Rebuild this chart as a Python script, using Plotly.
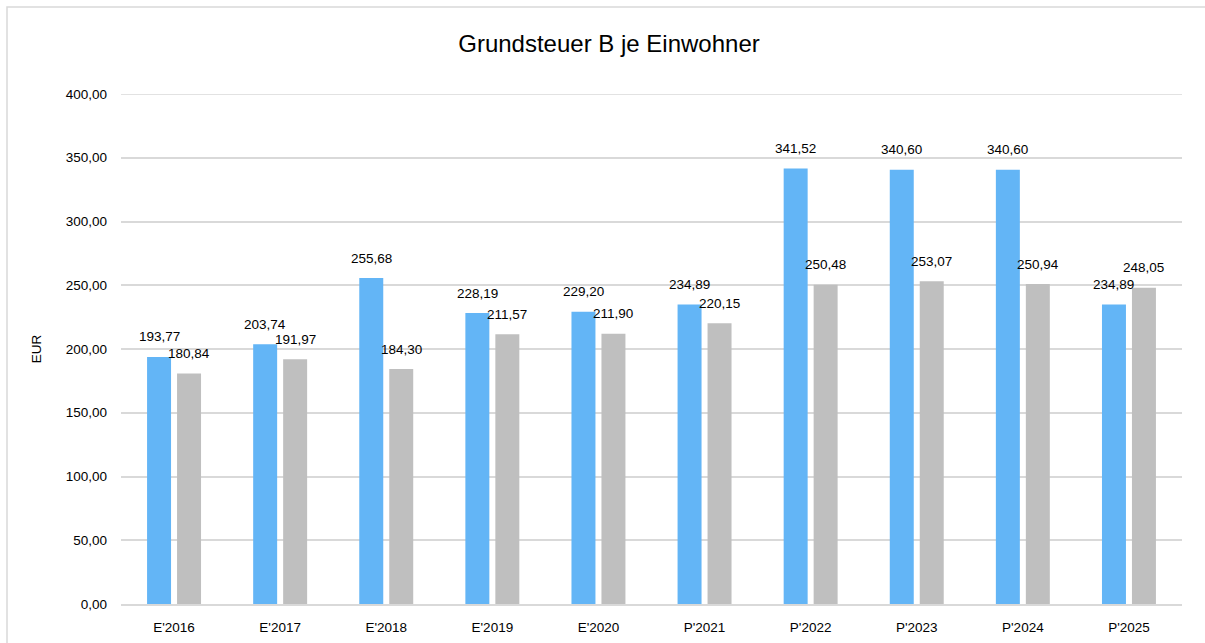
import plotly.graph_objects as go

categories = ["E'2016", "E'2017", "E'2018", "E'2019", "E'2020",
              "P'2021", "P'2022", "P'2023", "P'2024", "P'2025"]
series_a = [193.77, 203.74, 255.68, 228.19, 229.20, 234.89, 341.52, 340.60, 340.60, 234.89]
series_b = [180.84, 191.97, 184.30, 211.57, 211.90, 220.15, 250.48, 253.07, 250.94, 248.05]
y_ticks = [0, 50, 100, 150, 200, 250, 300, 350, 400]

W, H = 1205, 643
L, R, T, B = 121, 23, 94, 39
FONT = "Liberation Sans, Arial, sans-serif"
FS = 13.5

def de(v):
    return f"{v:.2f}".replace(".", ",")

fig = go.Figure()
fig.add_trace(go.Bar(x=categories, y=series_a, marker_color="#63B5F6",
                     marker_line_width=0, name="A"))
fig.add_trace(go.Bar(x=categories, y=series_b, marker_color="#BFBFBF",
                     marker_line_width=0, name="B"))

annotations = []
for c, a, b in zip(categories, series_a, series_b):
    annotations.append(dict(x=c, y=a, text=de(a), showarrow=False, xshift=-15,
                            yshift=20, yanchor="middle", xanchor="center",
                            font=dict(family=FONT, size=FS, color="#000000")))
    annotations.append(dict(x=c, y=b, text=de(b), showarrow=False, xshift=15,
                            yshift=20, yanchor="middle", xanchor="center",
                            font=dict(family=FONT, size=FS, color="#000000")))

pw = W - L - R
ph = H - T - B
def px_x(x):
    return (x - L) / pw
def px_y(y):
    return 1 - (y - T) / ph

shapes = [dict(type="rect", xref="paper", yref="paper",
               x0=px_x(7), x1=px_x(1215), y0=px_y(655), y1=px_y(7),
               line=dict(color="#D9D9D9", width=1.5), fillcolor="rgba(0,0,0,0)",
               layer="below"),
          dict(type="line", xref="paper", yref="y", x0=0, x1=1,
               y0=y_ticks[-1], y1=y_ticks[-1],
               line=dict(color="#D9D9D9", width=1.5), layer="below")]

fig.update_layout(
    width=W, height=H,
    margin=dict(l=L, r=R, t=T, b=B),
    paper_bgcolor="white", plot_bgcolor="white",
    separators=",.",
    barmode="group", bargap=0.435, bargroupgap=0.2,
    showlegend=False,
    title=dict(text="Grundsteuer B je Einwohner", x=609 / W, xanchor="center",
               y=1 - 44 / H, yanchor="middle",
               font=dict(family=FONT, size=24, color="#000000")),
    font=dict(family=FONT, size=FS, color="#000000"),
    annotations=annotations,
    shapes=shapes,
)
fig.update_xaxes(type="category", showgrid=False, showline=True,
                 linecolor="#D9D9D9", linewidth=2, ticks="",
                 ticklabelstandoff=10, automargin=False,
                 tickfont=dict(family=FONT, size=FS, color="#000000"))
fig.update_yaxes(range=[0, 400], tickvals=y_ticks, tickformat=".2f",
                 showgrid=True, gridcolor="#D9D9D9", gridwidth=1.5,
                 zeroline=False, showline=False, ticks="",
                 ticklabelstandoff=13, automargin=False,
                 tickfont=dict(family=FONT, size=FS, color="#000000"),
                 title=dict(text="EUR", standoff=20,
                            font=dict(family=FONT, size=FS, color="#000000")))

fig.write_html("out.html", config={"displayModeBar": False},
               post_script="document.body.style.margin='0px';")
